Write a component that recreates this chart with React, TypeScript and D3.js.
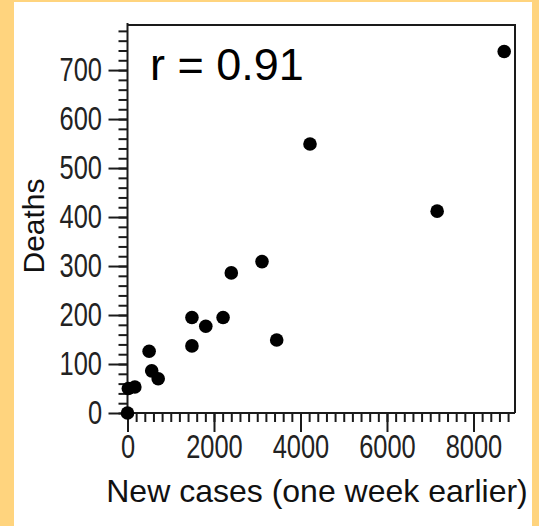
import React, { useEffect, useRef } from 'react';
import * as d3 from 'd3';

// values
const newCases = [0, 20, 170, 500, 560, 710, 1490, 1490, 1810, 2210, 2400, 3110, 3450, 4220, 7160, 8710];
const deaths = [0, 50, 53, 126, 86, 70, 195, 137, 177, 195, 286, 309, 149, 549, 412, 738];
const xTicks = [0, 2000, 4000, 6000, 8000];
const yTicks = [0, 100, 200, 300, 400, 500, 600, 700];
const xMinor = d3.range(0, 8801, 200);
const yMinor = d3.range(0, 781, 20);
const rLabel = 'r = 0.91';

const W = 539;
const H = 526;
const FONT = '"Liberation Sans", Arial, Helvetica, sans-serif';
const SQUEEZE = 0.77;

export default function App() {
  const ref = useRef<SVGSVGElement>(null);

  useEffect(() => {
    document.body.style.margin = '0';
    const svg = d3.select(ref.current);
    svg.selectAll('*').remove();

    const margin = { left: 127.5, top: 25, right: 515, bottom: 413 };

    svg.append('rect').attr('width', W).attr('height', H).attr('fill', '#FFD47E');
    svg.append('rect').attr('x', 14).attr('y', 2).attr('width', 518).attr('height', H - 2).attr('fill', '#fff');

    const x = d3.scaleLinear().domain([0, 8960]).range([margin.left, margin.right]);
    const y = d3.scaleLinear().domain([0, 792]).range([margin.bottom, margin.top]);

    // frame (top and right)
    svg.append('path')
      .attr('d', `M${margin.left},${margin.top}H${margin.right}V${margin.bottom}`)
      .attr('fill', 'none').attr('stroke', '#1a1a1a').attr('stroke-width', 2);

    // minor ticks
    svg.append('g')
      .attr('transform', `translate(${margin.left},0)`)
      .call(d3.axisLeft(y).tickValues(yMinor).tickSize(9).tickFormat(() => '').tickSizeOuter(0))
      .call(g => g.select('.domain').remove());
    svg.append('g')
      .attr('transform', `translate(0,${margin.bottom})`)
      .call(d3.axisBottom(x).tickValues(xMinor).tickSize(9).tickFormat(() => '').tickSizeOuter(0))
      .call(g => g.select('.domain').remove());

    // major ticks + labels
    const yAxis = svg.append('g')
      .attr('transform', `translate(${margin.left},0)`)
      .call(d3.axisLeft(y).tickValues(yTicks).tickSize(19).tickSizeOuter(0).tickFormat(d3.format('d')));
    yAxis.select('.domain').attr('d', `M0,${margin.top - 2}V${margin.bottom}`);
    yAxis.selectAll('text')
      .attr('x', -25.5 / SQUEEZE)
      .attr('transform', `scale(${SQUEEZE},1)`);

    const xAxis = svg.append('g')
      .attr('transform', `translate(0,${margin.bottom})`)
      .call(d3.axisBottom(x).tickValues(xTicks).tickSize(19).tickSizeOuter(0).tickFormat(d3.format('d')));
    xAxis.select('.domain').attr('d', `M${margin.left},0H${margin.right}`);
    xAxis.selectAll('.tick text')
      .attr('y', 22)
      .attr('x', 0)
      .attr('transform', `scale(${SQUEEZE},1)`);

    svg.selectAll('.tick line, .domain').attr('stroke', '#1a1a1a').attr('stroke-width', 2);
    svg.selectAll('.tick text')
      .attr('font-family', FONT).attr('font-size', 33).attr('fill', '#222');

    // points
    svg.append('g')
      .selectAll('circle')
      .data(newCases.map((c, i) => [c, deaths[i]]))
      .join('circle')
      .attr('cx', d => x(d[0]))
      .attr('cy', d => y(d[1]))
      .attr('r', 6.8)
      .attr('fill', '#000');

    // titles
    svg.append('text')
      .attr('x', (106 + 528) / 2).attr('y', 502)
      .attr('text-anchor', 'middle')
      .attr('font-family', FONT).attr('font-size', 32).attr('fill', '#111')
      .text('New cases (one week earlier)');
    svg.append('text')
      .attr('transform', 'translate(44,226) rotate(-90)')
      .attr('text-anchor', 'middle')
      .attr('font-family', FONT).attr('font-size', 30).attr('fill', '#111')
      .text('Deaths');
    svg.append('text')
      .attr('x', 150).attr('y', 80)
      .attr('font-family', FONT).attr('font-size', 45).attr('fill', '#000')
      .text(rLabel);
  }, []);

  return <svg ref={ref} width={W} height={H} style={{ display: 'block' }} />;
}
